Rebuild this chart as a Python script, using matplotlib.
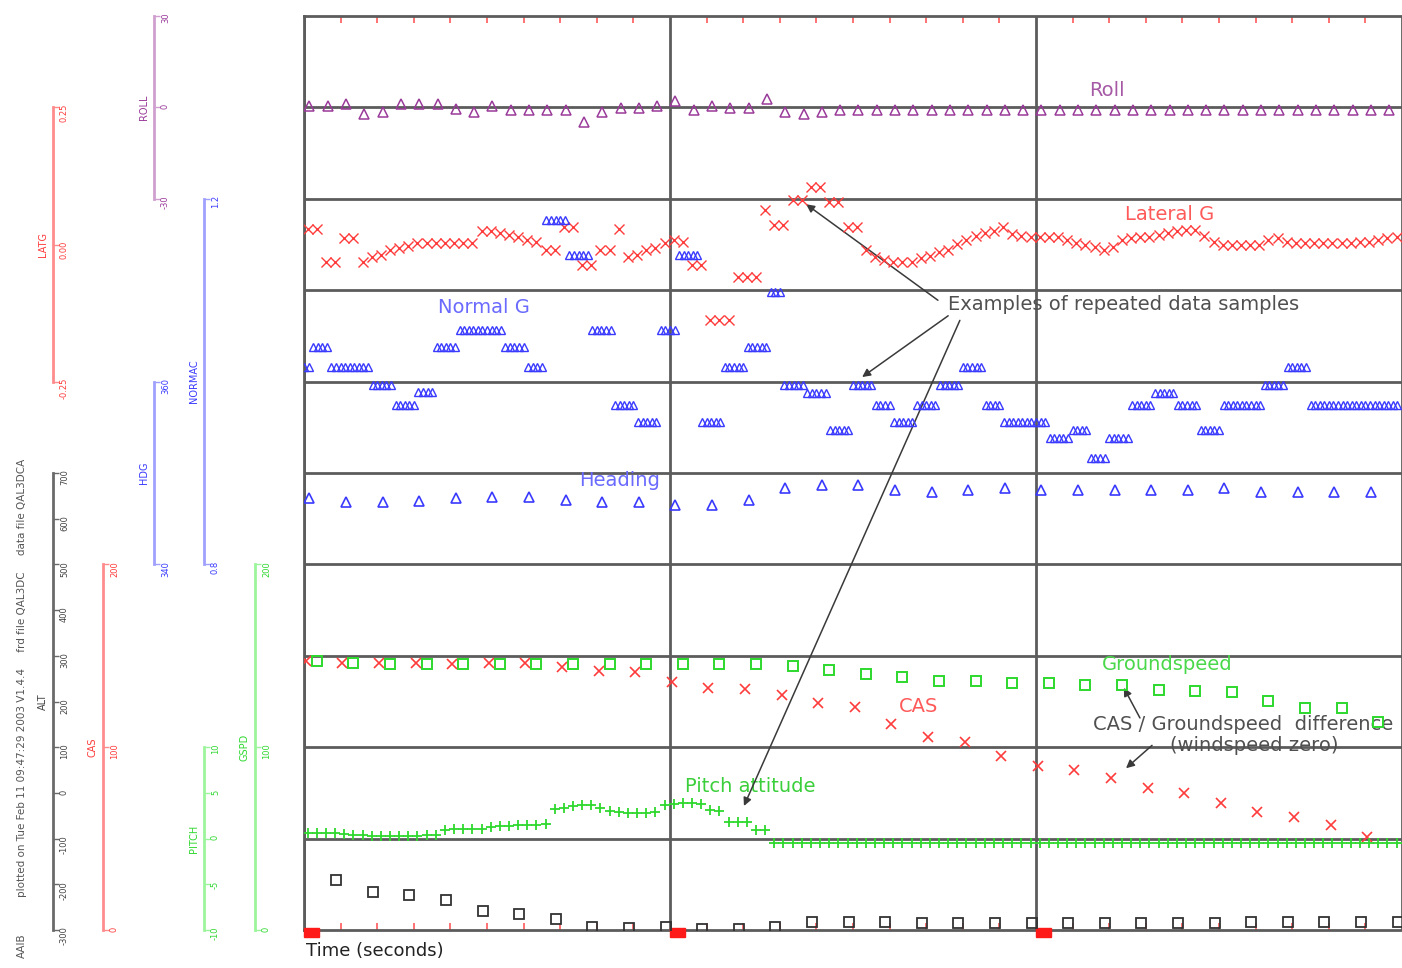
import matplotlib.pyplot as plt
import numpy as np
from matplotlib.patches import Rectangle
from matplotlib.ticker import MultipleLocator
from matplotlib.transforms import blended_transform_factory

plt.rcParams['font.family'] = ['DejaVu Sans']

# ---- recorded parameters -------------------------------------------------
# roll attitude, deg (2 Hz)
roll = [0.3, 0.3, 1.1, -2.2, -1.6, 1.1, 1.1, 1.1, -0.5, -1.4,
        0.3, -1.0, -1.0, -1.0, -0.9, -4.9, -1.6, -0.2, -0.2, 0.3,
        2.2, -1.0, 0.3, -0.2, -0.2, 2.7, -1.6, -2.2, -1.6, -1.0,
        -1.0, -0.8, -0.8, -1.0, -0.8, -0.8, -0.8, -0.8, -0.8, -1.0,
        -0.8, -0.8, -0.8, -0.8, -0.8, -0.8, -0.8, -1.0, -0.8, -0.8,
        -0.8, -0.8, -0.8, -0.8, -0.8, -0.8, -0.8, -1.0, -0.8, -0.8]

# lateral acceleration, g (4 Hz)
latg = [0.028, 0.028, -0.032, -0.032, 0.012, 0.012, -0.032, -0.023, -0.019, -0.010,
        -0.006, -0.003, 0.003, 0.003, 0.003, 0.003, 0.003, 0.003, 0.003, 0.025,
        0.025, 0.021, 0.017, 0.014, 0.008, 0.005, -0.010, -0.010, 0.032, 0.032,
        -0.037, -0.037, -0.010, -0.010, 0.028, -0.023, -0.019, -0.010, -0.006, 0.003,
        0.008, 0.005, -0.037, -0.037, -0.138, -0.138, -0.138, -0.059, -0.059, -0.059,
        0.063, 0.036, 0.036, 0.081, 0.081, 0.105, 0.105, 0.078, 0.078, 0.032,
        0.032, -0.010, -0.023, -0.028, -0.032, -0.032, -0.032, -0.025, -0.021, -0.014,
        -0.010, 0.001, 0.008, 0.016, 0.021, 0.025, 0.032, 0.019, 0.016, 0.014,
        0.014, 0.014, 0.014, 0.008, 0.003, -0.001, -0.005, -0.010, -0.005, 0.008,
        0.012, 0.014, 0.014, 0.017, 0.021, 0.025, 0.026, 0.026, 0.016, 0.005,
        -0.001, -0.001, -0.001, -0.001, -0.001, 0.008, 0.012, 0.005, 0.003, 0.003,
        0.003, 0.003, 0.003, 0.003, 0.003, 0.005, 0.005, 0.008, 0.012, 0.014]

# normal acceleration, g (8 Hz) as (value, number of repeated samples)
normg_runs = [(1.016, 2), (1.038, 4), (1.016, 9), (0.996, 5), (0.974, 5),
              (0.989, 4), (1.038, 5), (1.056, 10), (1.038, 5), (1.016, 4),
              (1.177, 5), (1.139, 5), (1.056, 5), (0.974, 5), (0.956, 5),
              (1.056, 4), (1.139, 5), (0.956, 5), (1.016, 5), (1.038, 5),
              (1.098, 3), (0.996, 5), (0.988, 5), (0.947, 5), (0.996, 5),
              (0.974, 4), (0.956, 5), (0.974, 5), (0.996, 5), (1.016, 5),
              (0.974, 4), (0.956, 10), (0.938, 5), (0.947, 4), (0.916, 4),
              (0.938, 5), (0.974, 5), (0.988, 5), (0.974, 5), (0.947, 5),
              (0.974, 9), (0.996, 5), (1.016, 5), (0.974, 20)]

# magnetic heading, deg (1 Hz)
hdg = [347.3, 346.8, 346.8, 346.9, 347.3, 347.4, 347.4, 347.0, 346.8, 346.8,
       346.5, 346.5, 347.0, 348.4, 348.7, 348.7, 348.1, 347.9, 348.1, 348.4,
       348.1, 348.1, 348.1, 348.1, 348.1, 348.4, 347.9, 347.9, 347.9, 347.9]

# groundspeed and computed airspeed, kt (1 Hz)
gspd = [147.2, 146.1, 145.5, 145.5, 145.5, 145.5, 145.5, 145.5, 145.5, 145.5,
        145.5, 145.5, 145.5, 144.4, 142.2, 140.0, 138.4, 136.2, 136.2, 135.1,
        135.1, 134.0, 134.0, 131.3, 130.7, 130.2, 125.3, 121.4, 121.4, 113.8]
cas = [147.2, 146.1, 146.1, 146.1, 145.5, 146.1, 146.1, 143.9, 141.7, 141.1,
       135.7, 132.4, 131.8, 128.6, 124.2, 122.0, 112.7, 105.6, 102.8, 95.2,
       89.7, 87.5, 83.1, 77.7, 74.9, 69.5, 64.6, 61.8, 57.4, 50.9]

# pressure altitude, ft (1 Hz)
alt = [-191, -217, -223, -234, -258, -265, -276, -293, -296, -293,
       -298, -298, -293, -282, -282, -282, -285, -285, -285, -285,
       -285, -285, -285, -285, -285, -282, -282, -282, -282, -282]

# pitch attitude, deg (4 Hz) as (value, number of repeated samples)
pitch_runs = [(0.6, 4), (0.5, 1), (0.4, 2), (0.3, 6), (0.4, 2), (0.9, 1), (1.0, 2),
              (1.1, 2), (1.3, 1), (1.4, 2), (1.5, 3), (1.6, 1), (3.2, 1), (3.4, 1),
              (3.6, 1), (3.7, 2), (3.3, 1), (3.0, 1), (2.9, 1), (2.8, 3), (2.9, 1),
              (3.7, 1), (3.8, 1), (3.9, 2), (3.8, 1), (3.1, 1), (3.0, 1), (1.8, 3),
              (0.9, 2), (-0.5, 69)]

normg = np.repeat([v for v, n in normg_runs], [n for v, n in normg_runs])
pitch = np.repeat([v for v, n in pitch_runs], [n for v, n in pitch_runs])

# sample times, s
t_roll = 0.15 + 0.5 * np.arange(len(roll))
t_latg = 0.10 + 0.25 * np.arange(len(latg))
t_normg = 0.125 * np.arange(len(normg))
t_hdg = 0.15 + np.arange(len(hdg))
t_gspd = 0.35 + np.arange(len(gspd))
t_cas = 0.05 + np.arange(len(cas))
t_alt = 0.88 + np.arange(len(alt))
t_pitch = 0.10 + 0.25 * np.arange(len(pitch))

# ---- layout --------------------------------------------------------------
W, H = 1402, 968
L, R, T, B = 304, 1402, 16, 930
rect = [L / W, (H - B) / H, (R - L) / W, (B - T) / H]

fig = plt.figure(figsize=(W / 100, H / 100), dpi=100)
ax = fig.add_axes(rect)
ax.set_xlim(0, 30)
ax.set_ylim(0, 10)
ax.set_xticks([0, 10, 20, 30])
ax.xaxis.set_minor_locator(MultipleLocator(1))
ax.set_yticks(range(1, 10))
ax.set_axisbelow(True)
ax.grid(True, which='major', color='#5c5c5c', lw=2)
ax.tick_params(which='major', length=0, labelbottom=False, labelleft=False)
ax.tick_params(axis='x', which='minor', direction='in', top=True, bottom=True,
               length=5, width=1.2, color='#ff5a5a')
for s in ['left', 'top', 'bottom']:
    ax.spines[s].set_color('#5c5c5c')
    ax.spines[s].set_linewidth(2)
ax.spines['right'].set_visible(False)
for t0 in [0, 10, 20]:
    ax.add_patch(Rectangle((t0, -0.08), 0.42, 0.1, color='#ff1a1a',
                           clip_on=False, zorder=5))


def scale_axes(ylim, spine_px, bounds, ticks, labels, name, color, spine_color):
    sa = fig.add_axes(rect)
    sa.set_xlim(0, 30)
    sa.set_ylim(*ylim)
    sa.patch.set_visible(False)
    sa.set_xticks([])
    for s in ['left', 'top', 'bottom']:
        sa.spines[s].set_visible(False)
    frac = (spine_px - L) / (R - L)
    sp = sa.spines['right']
    sp.set_position(('axes', frac))
    sp.set_bounds(*bounds)
    sp.set_color(spine_color)
    sp.set_linewidth(2)
    sa.yaxis.tick_right()
    sa.set_yticks(ticks, labels)
    sa.tick_params(axis='y', direction='out', length=4, width=1, color=spine_color,
                   labelcolor=color, labelsize=6, pad=1, labelrotation=90)
    tr = blended_transform_factory(sa.transAxes, sa.transData)
    sa.text((spine_px - 5 - L) / (R - L), (bounds[0] + bounds[1]) / 2, name,
            transform=tr, rotation=90, ha='right', va='center', fontsize=7,
            color=color)
    return sa


purple, purple_l = '#9a3a9a', '#cf9fcf'
red, red_l = '#ff3c3c', '#ff8c8c'
blue, blue_l = '#3a3aff', '#a0a0ff'
green, green_l = '#2ed82e', '#9cf59c'
grey, grey_l = '#444444', '#6a6a6a'

a_roll = scale_axes((-270, 30), 154, (-30, 30), [-30, 0, 30],
                    ['-30', '0', '30'], 'ROLL', purple, purple_l)
a_latg = scale_axes((-1.25, 5 / 12), 53, (-0.25, 0.25), [-0.25, 0, 0.25],
                    ['-0.25', '0.00', '0.25'], 'LATG', red, red_l)
a_norm = scale_axes((0.4, 1.4), 204, (0.8, 1.2), [0.8, 1.2],
                    ['0.8', '1.2'], 'NORMAC', blue, blue_l)
a_hdg = scale_axes((300, 400), 154, (340, 360), [340, 360],
                   ['340', '360'], 'HDG', blue, blue_l)
alt_ticks = list(range(-300, 701, 100))
a_alt = scale_axes((-300, 1700), 53, (-300, 700), alt_ticks,
                   [str(v) for v in alt_ticks], 'ALT', grey, grey_l)
a_cas = scale_axes((0, 500), 103, (0, 200), [0, 100, 200],
                   ['0', '100', '200'], 'CAS', red, red_l)
a_pitch = scale_axes((-10, 90), 204, (-10, 10), [-10, -5, 0, 5, 10],
                     ['-10', '-5', '0', '5', '10'], 'PITCH', green, green_l)
a_gspd = scale_axes((0, 500), 255, (0, 200), [0, 100, 200],
                    ['0', '100', '200'], 'GSPD', green, green_l)

# ---- traces --------------------------------------------------------------
a_roll.plot(t_roll, roll, ls='none', marker='^', ms=6.5, mfc='none', mec=purple, mew=1.1)
a_latg.plot(t_latg, latg, ls='none', marker='x', ms=6.5, mec=red, mew=1.0)
a_norm.plot(t_normg, normg, ls='none', marker='^', ms=6, mfc='none', mec=blue, mew=1.0)
a_hdg.plot(t_hdg, hdg, ls='none', marker='^', ms=7, mfc='none', mec=blue, mew=1.2)
a_gspd.plot(t_gspd, gspd, ls='none', marker='s', ms=7.5, mfc='none', mec=green, mew=1.4)
a_cas.plot(t_cas, cas, ls='none', marker='x', ms=7, mec=red, mew=1.2)
a_pitch.plot(t_pitch, pitch, ls='none', marker='+', ms=7.5, mec=green, mew=1.3)
a_alt.plot(t_alt, alt, ls='none', marker='s', ms=7, mfc='none', mec='#333333', mew=1.3)

# ---- labels and call-outs (time / band coordinates) ----------------------
lbl = dict(fontsize=14, ha='center', va='center')
ax.text(21.94, 9.19, 'Roll', color='#a65aa6', **lbl)
ax.text(23.66, 7.83, 'Lateral G', color='#ff5a5a', **lbl)
ax.text(4.92, 6.81, 'Normal G', color='#6a6aff', **lbl)
ax.text(8.63, 4.92, 'Heading', color='#6a6aff', **lbl)
ax.text(23.58, 2.90, 'Groundspeed', color='#4ad84a', **lbl)
ax.text(16.78, 2.44, 'CAS', color='#ff5a5a', **lbl)
ax.text(12.19, 1.565, 'Pitch attitude', color='#3ccf3c', **lbl)
ax.text(17.6, 6.84, 'Examples of repeated data samples', color='#505050',
        fontsize=14, ha='left', va='center')
ax.text(21.56, 2.25, 'CAS / Groundspeed  difference', color='#505050',
        fontsize=14, ha='left', va='center')
ax.text(25.96, 2.02, '(windspeed zero)', color='#505050', **lbl)

arrow = dict(arrowstyle='-|>', color='#3a3a3a', lw=1.1, mutation_scale=12,
             shrinkA=0, shrinkB=0)
for tail, head in [((17.32, 6.89), (13.72, 7.94)),
                   ((17.6, 6.72), (15.25, 6.05)),
                   ((17.92, 6.67), (12.02, 1.357)),
                   ((22.84, 2.32), (22.40, 2.65)),
                   ((23.17, 2.02), (22.46, 1.77))]:
    ax.annotate('', xy=head, xytext=tail, arrowprops=arrow)

fig.text(306 / W, 1 - 951 / H, 'Time (seconds)', ha='left', va='center',
         fontsize=13, color='#222222')
fig.text(22 / W, 1 - 678 / H,
         'plotted on Tue Feb 11 09:47:29 2003 V1.4.4     frd file QAL3DC     data file QAL3DCA',
         rotation=90, ha='center', va='center', fontsize=7.5, color='#555555')
fig.text(22 / W, 1 - 946 / H, 'AAIB', rotation=90, ha='center', va='center',
         fontsize=7.5, color='#555555')

fig.savefig('out.png', dpi=100)
